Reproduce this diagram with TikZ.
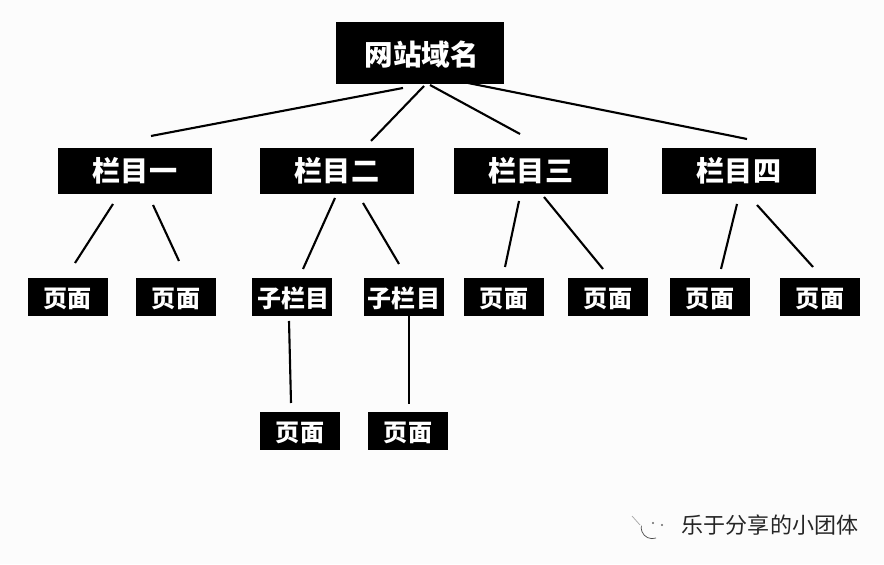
\documentclass[tikz,border=0pt]{standalone}
\usepackage{fontspec}
\setmainfont{Noto Sans CJK SC}
\usepackage{tikz}

\begin{document}
\begin{tikzpicture}[scale=0.3,
	box/.style={fill=black,text=white,inner sep=0pt,font=\bfseries},
	rootbox/.style={box,minimum width=5.04cm,minimum height=1.86cm,text height=24pt,text depth=2.9pt,font=\bfseries\fontsize{24.4}{24.4}\selectfont},
	columnbox/.style={box,minimum width=4.62cm,minimum height=1.38cm,font=\bfseries\fontsize{24}{24}\selectfont},
	pagebox/.style={box,minimum width=2.4cm,minimum height=1.14cm,text height=20pt,text depth=2.4pt,font=\bfseries\fontsize{20.5}{20.5}\selectfont},
	link/.style={line width=1.8pt,black}]
		\fill[white!99!black] (0,0) rectangle (88.4,56.4);
		\useasboundingbox (0,0) rectangle (88.4,56.4);

		\node[rootbox] (Site) at (42,51.1) {\hspace{3pt}网站域名};

		\node[columnbox] (C1) at (13.5,39.3) {栏目一\hspace{4pt}};
		\node[columnbox] (C2) at (33.7,39.3) {栏目二\hspace{4pt}};
		\node[columnbox] (C3) at (53.1,39.3) {栏目三\hspace{4pt}};
		\node[columnbox] (C4) at (73.9,39.3) {栏目四\hspace{4pt}};

		\node[pagebox] (P11) at (6.8,26.7) {页面};
		\node[pagebox] (P12) at (17.6,26.7) {页面};
		\node[pagebox] (S1) at (29.2,26.7) {\hspace{2pt}子栏目};
		\node[pagebox] (S2) at (40.4,26.7) {子栏目};
		\node[pagebox] (P31) at (50.4,26.7) {页面};
		\node[pagebox] (P32) at (60.8,26.7) {页面};
		\node[pagebox] (P41) at (71,26.7) {页面};
		\node[pagebox] (P42) at (82,26.7) {页面};
		\node[pagebox] (PS1) at (30,13.3) {页面};
		\node[pagebox] (PS2) at (40.8,13.3) {页面};

		\coordinate (SiteA) at (40.3,47.6);
		\coordinate (C1top) at (15.1,42.8);
		\coordinate (SiteB) at (42.4,47.8);
		\coordinate (C2top) at (37.1,42.3);
		\coordinate (SiteC) at (43,47.9);
		\coordinate (C3top) at (52,43);
		\coordinate (SiteD) at (46.8,48.1);
		\coordinate (C4top) at (74.7,42.5);
		\draw[link] (SiteA)--(C1top);
		\draw[link] (SiteB)--(C2top);
		\draw[link] (SiteC)--(C3top);
		\draw[link] (SiteD)--(C4top);

		\coordinate (C1a) at (11.3,36);
		\coordinate (P11top) at (7.5,30.1);
		\coordinate (C1b) at (15.3,35.9);
		\coordinate (P12top) at (17.9,30.3);
		\draw[link] (C1a)--(P11top);
		\draw[link] (C1b)--(P12top);

		\coordinate (C2a) at (33.5,36.6);
		\coordinate (S1top) at (30.3,29.5);
		\coordinate (C2b) at (36.3,36.1);
		\coordinate (S2top) at (39.9,30);
		\draw[link] (C2a)--(S1top);
		\draw[link] (C2b)--(S2top);

		\coordinate (C3a) at (51.9,36.3);
		\coordinate (P31top) at (50.5,29.7);
		\coordinate (C3b) at (54.4,36.7);
		\coordinate (P32top) at (60.3,29.5);
		\draw[link] (C3a)--(P31top);
		\draw[link] (C3b)--(P32top);

		\coordinate (C4a) at (73.7,36);
		\coordinate (P41top) at (72.1,29.5);
		\coordinate (C4b) at (75.7,35.9);
		\coordinate (P42top) at (81.3,29.7);
		\draw[link] (C4a)--(P41top);
		\draw[link] (C4b)--(P42top);

		\coordinate (S1a) at (28.9,24.3);
		\coordinate (PS1top) at (29.1,16.1);
		\coordinate (S2a) at (40.9,24.8);
		\coordinate (PS2top) at (40.9,16);
		\draw[link] (S1a)--(PS1top);
		\draw[link] (S2a)--(PS2top);

		% watermark
		\node[text=black!85,font=\fontsize{18.8}{18.8}\selectfont] (Mark) at (77,3.9) {乐于分享的小团体};
		\draw[black!70,line width=0.6pt] (65.6,2.6) arc (-70:-190:1.1);
		\fill[black!60] (65.3,4.1) circle (0.12);
		\fill[black!60] (66.2,3.9) circle (0.12);
		\draw[black!35,line width=0.6pt] (63.2,4.8)--(64,3.9);
\end{tikzpicture}
\end{document}
